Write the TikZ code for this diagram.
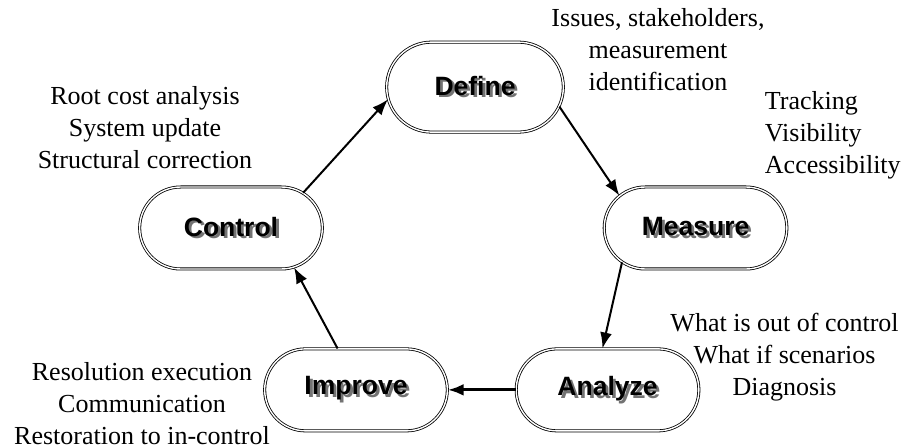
\documentclass[tikz,border=0pt]{standalone}
\usepackage{fontspec}
\setmainfont{Liberation Serif}
\setsansfont{Liberation Sans}
\usetikzlibrary{shapes.misc,arrows.meta,positioning}

\newcommand{\shadowed}[1]{\makebox[0pt][l]{\kern1.4pt\raisebox{-1.4pt}{\textcolor{black!55}{#1}}}#1}

\begin{document}
\begin{tikzpicture}[->,>={Latex[length=8pt,width=6pt]},node distance=.3cm,
	phase node/.style={draw, rounded rectangle, double, double distance=0.7pt, line width=0.4pt, minimum width=98pt, minimum height=41pt, font=\fontsize{13.25}{16}\sffamily\bfseries},
	note/.style={align=center, inner sep=0pt, font=\fontsize{13}{16}\selectfont}]
				\node[phase node] (control) {\shadowed{Control}};
				\node[phase node] (measure) [right=of control, xshift=132pt]{\shadowed{Measure}};
				\node[phase node] (define) [above=of control, xshift=122pt, yshift=18.5pt, minimum height=45pt, minimum width=95pt]{\shadowed{Define}};
				\node[phase node] (improve) [below=of control, xshift=62.5pt, yshift=-31pt]{\shadowed{Improve}};
				\node[phase node] (analyze) [right=of improve, xshift=25.5pt]{\shadowed{Analyze}};
				
				\node[note] (defnote) at ([shift={(91.5pt,19pt)}]define) {Issues, stakeholders,\\ measurement\\ identification};
				\node[note, anchor=west, align=left] (measnote) at ([shift={(34.5pt,46.25pt)}]measure) {Tracking\\ Visibility\\ Accessibility};
				\node[note] (analnote) at ([shift={(88.5pt,16.5pt)}]analyze) {What is out of control\\ What if scenarios\\ Diagnosis};
				\node[note] (impnote) at ([shift={(-107pt,-7pt)}]improve) {Resolution execution\\ Communication\\ Restoration to in-control};
				\node[note] (ctrlnote) at ([shift={(-43pt,50pt)}]control) {Root cost analysis\\ System update\\ Structural correction};
				
				\path[line width=1pt]
				(control.26) edge (define.188)
				(define.-13) edge (measure.157)
				(measure.205) edge (analyze.97)
				(analyze.west) edge [line width=1.6pt] (improve.east)
				(improve.114) edge (control.-32);
				
				\useasboundingbox ([shift={(-115.5pt,114pt)}]control.center) rectangle ([shift={(336.5pt,-110pt)}]control.center);
				\end{tikzpicture}
\end{document}
